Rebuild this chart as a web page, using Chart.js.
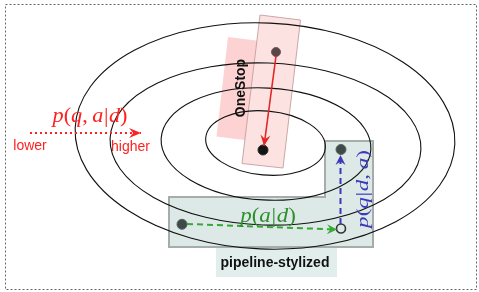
<!DOCTYPE html>
<html>
<head>
<meta charset="utf-8">
<script src="https://cdn.jsdelivr.net/npm/chart.js@4/dist/chart.umd.min.js"></script>
<style>
  html, body { margin: 0; padding: 0; background: #fff; }
  #wrap { width: 479px; height: 292px; }
</style>
</head>
<body>
<div id="wrap"><canvas id="c" width="479" height="292"></canvas></div>
<script>
// contour rings of p(q,a|d), outer to inner (plot units = px of the 479x292 figure)
const ringCx = [265, 265.5, 266, 265.5];
const ringCy = [136, 144, 144, 143];
const ringRx = [190, 155.5, 105, 60];
const ringRy = [113, 81, 56, 32];
const ringTilt = [2.5, 2, 3, 5]; // degrees

// OneStop boxes (corners)
const backBoxX = [228, 268, 256.5, 216.5];
const backBoxY = [37, 42, 141.5, 136.5];
const frontBoxX = [260, 300.5, 283, 242];
const frontBoxY = [15, 20, 168, 163.5];

// pipeline-stylized L-shaped region and its caption box
const pipeBoxX = [169, 325, 325, 373, 373, 169];
const pipeBoxY = [197, 197, 141, 141, 247, 247];
const captionBoxX = [216, 337, 337, 216];
const captionBoxY = [247, 247, 277, 277];

// dashed frame
const frameX = [5.5, 476.5, 476.5, 5.5, 5.5];
const frameY = [4.5, 4.5, 289.5, 289.5, 4.5];

// arrows
const oneStopArrowX = [276, 264];
const oneStopArrowY = [56, 146];
const scaleArrowX = [30, 141];
const scaleArrowY = [133, 133];
const answerArrowX = [187, 337];
const answerArrowY = [224, 229.5];
const questionArrowX = [340.5, 340.5];
const questionArrowY = [224, 155];

// filled dots: OneStop start, OneStop end, pipeline start, pipeline end
const dotX = [276, 263, 182, 341];
const dotY = [52, 150, 224.3, 149.5];
// hollow intermediate point
const midX = [341];
const midY = [228.5];

const xy = (xs, ys) => xs.map((x, i) => ({x: x, y: ys[i]}));

const shapesPlugin = {
  id: 'shapes',
  beforeDatasetsDraw(chart) {
    const ctx = chart.ctx;
    const sx = chart.scales.x, sy = chart.scales.y;
    const px = v => sx.getPixelForValue(v);
    const py = v => sy.getPixelForValue(v);
    const polys = [
      {xs: captionBoxX, ys: captionBoxY, fill: '#e2eeeb', stroke: null},
      {xs: pipeBoxX, ys: pipeBoxY, fill: '#dde9e6', stroke: '#a5adab', lw: 2},
      {xs: backBoxX, ys: backBoxY, fill: '#fdd2d2', stroke: null},
      {xs: frontBoxX, ys: frontBoxY, fill: '#fde2e2', stroke: '#c9a7a7', lw: 1}
    ];
    ctx.save();
    polys.forEach(p => {
      ctx.beginPath();
      p.xs.forEach((x, i) => i ? ctx.lineTo(px(x), py(p.ys[i])) : ctx.moveTo(px(x), py(p.ys[i])));
      ctx.closePath();
      ctx.fillStyle = p.fill;
      ctx.fill();
      if (p.stroke) {
        ctx.strokeStyle = p.stroke;
        ctx.lineWidth = p.lw;
        ctx.stroke();
      }
    });
    const kx = Math.abs(px(1) - px(0)), ky = Math.abs(py(1) - py(0));
    ctx.strokeStyle = '#111';
    ctx.lineWidth = 1.1;
    ringCx.forEach((cx, i) => {
      ctx.beginPath();
      ctx.ellipse(px(cx), py(ringCy[i]), ringRx[i] * kx, ringRy[i] * ky,
        ringTilt[i] * Math.PI / 180, 0, 2 * Math.PI);
      ctx.stroke();
    });
    ctx.restore();
  }
};

function drawMath(ctx, str, size, color) {
  // letters in italic, brackets and bars upright, centred on the origin
  const parts = [...str].map(ch => ({
    ch: ch,
    font: (/[a-z]/.test(ch) ? 'italic ' : '') + size + 'px "Liberation Serif"'
  }));
  let total = 0;
  parts.forEach(p => {
    ctx.font = p.font;
    p.w = ctx.measureText(p.ch).width + (p.ch === ',' ? size * 0.2 : 0) + (p.ch === '|' ? size * 0.05 : 0);
    total += p.w;
  });
  let x = -total / 2;
  ctx.fillStyle = color;
  ctx.textAlign = 'left';
  ctx.textBaseline = 'alphabetic';
  parts.forEach(p => {
    ctx.font = p.font;
    ctx.fillText(p.ch, x + (p.ch === '|' ? size * 0.025 : 0), 0);
    x += p.w;
  });
}

const labelsPlugin = {
  id: 'labels',
  afterDatasetsDraw(chart) {
    const ctx = chart.ctx;
    const sx = chart.scales.x, sy = chart.scales.y;
    // arrow heads at the last point of flagged datasets
    chart.data.datasets.forEach(ds => {
      if (!ds.head) return;
      const n = ds.data.length;
      const a = ds.data[n - 2], b = ds.data[n - 1];
      const x0 = sx.getPixelForValue(a.x), y0 = sy.getPixelForValue(a.y);
      const x1 = sx.getPixelForValue(b.x), y1 = sy.getPixelForValue(b.y);
      const ang = Math.atan2(y1 - y0, x1 - x0);
      const L = ds.head[0], W = ds.head[1];
      ctx.save();
      ctx.translate(x1, y1);
      ctx.rotate(ang);
      ctx.beginPath();
      ctx.moveTo(0, 0);
      ctx.lineTo(-L, -W);
      ctx.lineTo(-L * 0.65, 0);
      ctx.lineTo(-L, W);
      ctx.closePath();
      ctx.fillStyle = ds.borderColor;
      ctx.fill();
      ctx.restore();
    });

    const put = (x, y, rot, fn) => {
      ctx.save();
      ctx.translate(sx.getPixelForValue(x), sy.getPixelForValue(y));
      if (rot) ctx.rotate(rot * Math.PI / 180);
      fn();
      ctx.restore();
    };
    const plain = (text, font, color) => () => {
      ctx.font = font;
      ctx.fillStyle = color;
      ctx.textAlign = 'center';
      ctx.textBaseline = 'alphabetic';
      ctx.fillText(text, 0, 0);
    };
    put(30, 149.5, 0, plain('lower', '14px "Liberation Sans"', '#ff2222'));
    put(130.5, 151, 0, plain('higher', '14px "Liberation Sans"', '#ff2222'));
    put(245, 88, -90, plain('OneStop', 'bold 14px "Liberation Sans"', '#111'));
    put(275, 267, 0, plain('pipeline-stylized', 'bold 14px "Liberation Sans"', '#111'));

    put(90, 122, 0, () => { ctx.scale(1.06, 1); drawMath(ctx, 'p(q,a|d)', 21, '#ff2020'); });
    put(268, 222, 0, () => { ctx.scale(1.15, 1); drawMath(ctx, 'p(a|d)', 20, '#2f8f2f'); });
    put(368, 189, -90, () => { ctx.scale(1.32, 1); drawMath(ctx, 'p(q|d,a)', 17.5, '#3a3ab8'); });
  }
};

new Chart(document.getElementById('c'), {
  type: 'scatter',
  data: {
    datasets: [
      {data: xy(frameX, frameY), showLine: true, borderColor: '#666', borderWidth: 1,
       borderDash: [2, 2], pointRadius: 0},
      {data: xy(oneStopArrowX, oneStopArrowY), showLine: true, borderColor: '#e32626',
       borderWidth: 1.6, pointRadius: 0, head: [11, 5]},
      {data: xy(scaleArrowX, scaleArrowY), showLine: true, borderColor: '#ff2020',
       borderWidth: 2, borderDash: [2, 3], pointRadius: 0, head: [12, 5]},
      {data: xy(answerArrowX, answerArrowY), showLine: true, borderColor: '#36a836',
       borderWidth: 2, borderDash: [6, 4], pointRadius: 0, head: [10, 5]},
      {data: xy(questionArrowX, questionArrowY), showLine: true, borderColor: '#3a3ab8',
       borderWidth: 2, borderDash: [6, 4], pointRadius: 0, head: [10, 5]},
      {data: xy(dotX, dotY), pointRadius: [4.5, 5, 5, 5],
       pointBackgroundColor: ['#5b4646', '#141414', '#3e4a47', '#3e4a47'],
       pointBorderColor: ['#6e5a5a', '#2a2a2a', '#56625f', '#56625f'], pointBorderWidth: 1},
      {data: xy(midX, midY), pointRadius: 4.5, pointBackgroundColor: 'rgba(0,0,0,0)',
       pointBorderColor: '#333', pointBorderWidth: 1.6}
    ]
  },
  options: {
    responsive: false,
    animation: false,
    events: [],
    layout: {padding: 0, autoPadding: false},
    scales: {
      x: {type: 'linear', min: 0, max: 479, display: false},
      y: {type: 'linear', min: 0, max: 292, reverse: true, display: false}
    },
    plugins: {legend: {display: false}, tooltip: {enabled: false}},
    elements: {line: {tension: 0}},
    clip: false
  },
  plugins: [shapesPlugin, labelsPlugin]
});
</script>
</body>
</html>
